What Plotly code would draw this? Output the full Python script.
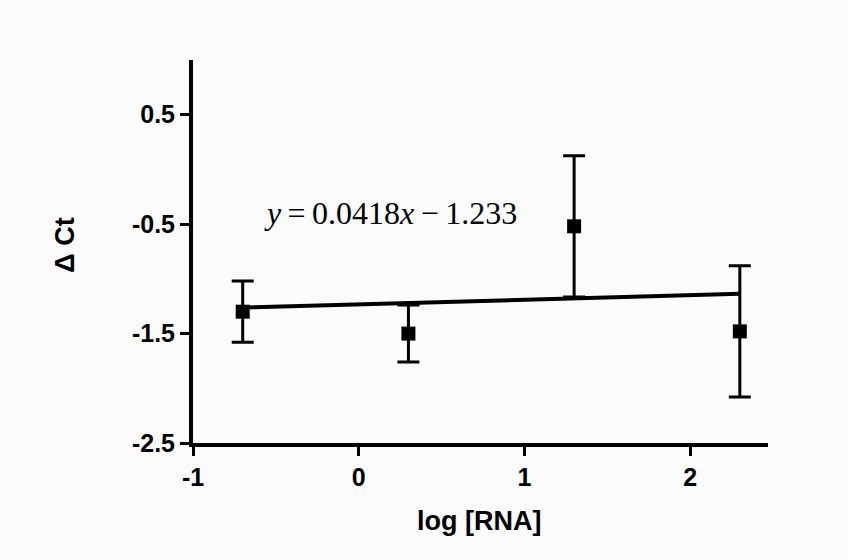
import plotly.graph_objects as go

# Measured ΔCt values at each log RNA concentration
log_rna = [-0.7, 0.3, 1.3, 2.3]
delta_ct = [-1.30, -1.50, -0.52, -1.48]
err = [0.28, 0.26, 0.645, 0.60]

# Linear fit reported on the chart
slope = 0.0418
intercept = -1.233
fit_x = [log_rna[0], log_rna[-1]]
fit_y = [slope * x + intercept for x in fit_x]

x_ticks = [-1, 0, 1, 2]
x_tick_text = ["-1", "0", "1", "2"]
y_ticks = [0.5, -0.5, -1.5, -2.5]
y_tick_text = ["0.5", "-0.5", "-1.5", "-2.5"]

SANS = "Arial, Liberation Sans, sans-serif"
SERIF = "Liberation Serif, Times New Roman, serif"

fig = go.Figure()

fig.add_trace(go.Scatter(
    x=fit_x, y=fit_y, mode="lines",
    line=dict(color="black", width=4),
    showlegend=False, hoverinfo="skip",
))

fig.add_trace(go.Scatter(
    x=log_rna, y=delta_ct, mode="markers",
    marker=dict(symbol="square", size=14, color="black"),
    error_y=dict(type="data", array=err, visible=True,
                 color="black", thickness=3, width=11),
    showlegend=False,
))

# Fit equation
fig.add_annotation(
    x=0.19, y=-0.40, xref="x", yref="y",
    text="<i>y</i>\u2009=\u20090.0418<i>x</i>\u2009\u2212\u20091.233",
    showarrow=False,
    font=dict(family=SERIF, size=32, color="black"),
)

# Axis titles
fig.add_annotation(
    x=0.497, y=-0.204, xref="paper", yref="paper",
    text="<b>log [RNA]</b>", showarrow=False,
    xanchor="center", yanchor="middle",
    font=dict(family=SANS, size=27, color="black"),
)
fig.add_annotation(
    x=-0.223, y=0.517, xref="paper", yref="paper",
    text="<b>\u0394 Ct</b>", showarrow=False, textangle=-90,
    xanchor="center", yanchor="middle",
    font=dict(family=SANS, size=27, color="black"),
)

tick_font = dict(family=SANS, size=25, color="black", weight="bold")

fig.update_xaxes(
    range=[-1, 2.47],
    tickvals=x_ticks, ticktext=x_tick_text,
    showline=True, linecolor="black", linewidth=4,
    ticks="outside", ticklen=9, tickwidth=3, tickcolor="black",
    showgrid=False, zeroline=False,
    tickfont=tick_font,
)
fig.update_yaxes(
    range=[-2.5, 1.0],
    tickvals=y_ticks, ticktext=y_tick_text,
    showline=True, linecolor="black", linewidth=4,
    ticks="outside", ticklen=9, tickwidth=3, tickcolor="black",
    showgrid=False, zeroline=False,
    tickfont=tick_font,
)

fig.update_layout(
    width=848, height=560,
    margin=dict(l=193, r=80, t=60, b=117),
    paper_bgcolor="#fbfbfb", plot_bgcolor="#fbfbfb",
    font=dict(family=SANS, color="black"),
)

fig.write_html("out.html")
